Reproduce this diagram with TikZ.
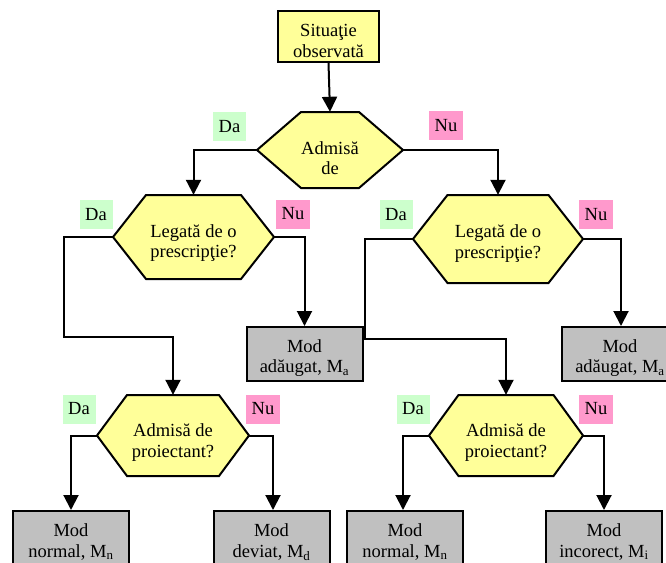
\documentclass[tikz,border=0pt]{standalone}
\usepackage{fontspec}
\setmainfont{Liberation Serif}
\usetikzlibrary{arrows.meta}

\definecolor{hexfill}{HTML}{FFFF99}
\definecolor{modgray}{HTML}{C0C0C0}
\definecolor{yesbg}{HTML}{CCFFCC}
\definecolor{nobg}{HTML}{FF99CC}

\tikzset{
  txt/.style={font=\fontsize{18.5}{20.5}\selectfont, align=center, inner sep=0pt},
  edge/.style={draw=black, line width=2pt},
  hexshape/.style={edge, fill=hexfill, line join=miter},
  startbox/.style={edge, fill=hexfill, minimum width=101, minimum height=51, inner sep=0pt},
  modbox/.style={edge, fill=modgray, minimum width=116, minimum height=54, inner sep=0pt},
  yes/.style={txt, fill=yesbg, minimum width=33, minimum height=29},
  no/.style={txt, fill=nobg, minimum width=34, minimum height=29},
  conn/.style={line width=2pt, -{Triangle[width=15pt,length=15pt]}},
}

% decision hexagon: name, centre x, centre y, half width, tip inset, half height, text, text drop
\newcommand\hexdecision[8]{%
  \filldraw[hexshape] (#2-#4,#3) -- (#2-#4+#5,#3-#6) -- (#2+#4-#5,#3-#6)
    -- (#2+#4,#3) -- (#2+#4-#5,#3+#6) -- (#2-#4+#5,#3+#6) -- cycle;
  \node[inner sep=0pt, minimum width=2*#4, minimum height=2*#6] (#1) at (#2,#3) {};
  \node[txt] (#1-t) at (#2,#3+#8) {#7};
}

% outcome box: name, centre x, centre y, text
\newcommand\outcome[4]{%
  \node[modbox] (#1) at (#2,#3) {};
  \node[txt] (#1-t) at (#2,#3+4) {#4};
}

\begin{document}
\begin{tikzpicture}[x=1pt, y=-1pt]
\useasboundingbox (0,0) rectangle (666,562);
\clip (0,0) rectangle (666,562);

% start
\node[startbox] (start) at (328.5,36.5) {};
\node[txt] (start-t) at (328.5,41) {Situaţie\\observată};

% decisions
\hexdecision{h1}{330}{150}{73}{44}{38}{Admisă\\de}{8}
\hexdecision{h2a}{193.5}{237}{80.5}{33}{42}{Legată de o\\prescripţie?}{6}
\hexdecision{h2b}{498}{239}{85}{34.5}{44}{Legată de o\\prescripţie?}{4.5}
\hexdecision{h3a}{173}{435.5}{76}{30}{40.5}{Admisă de\\proiectant?}{7}
\hexdecision{h3b}{506}{435.5}{77}{29.5}{40.5}{Admisă de\\proiectant?}{7}

% outcomes
\outcome{ma1}{304.5}{354}{Mod\\adăugat, M\textsubscript{a}}
\outcome{ma2}{620}{354}{Mod\\adăugat, M\textsubscript{a}}
\outcome{mn1}{71}{538}{Mod\\normal, M\textsubscript{n}}
\outcome{md}{271.5}{538}{Mod\\deviat, M\textsubscript{d}}
\outcome{mn2}{405}{538}{Mod\\normal, M\textsubscript{n}}
\outcome{mi}{604}{538}{Mod\\incorect, M\textsubscript{i}}

% branch labels
\node[yes] (y1)  at (229.5,126.5) {Da};
\node[no]  (n1)  at (446,125.5) {Nu};
\node[yes] (y2a) at (96,214.5) {Da};
\node[no]  (n2a) at (293,214) {Nu};
\node[yes] (y2b) at (396,214.5) {Da};
\node[no]  (n2b) at (596,214.5) {Nu};
\node[yes] (y3a) at (79,409) {Da};
\node[no]  (n3a) at (263,409) {Nu};
\node[yes] (y3b) at (413,409) {Da};
\node[no]  (n3b) at (596,409) {Nu};

% connectors
\draw[conn] (start.south) -- (h1.north);
\draw[conn] (h1.west) -| (h2a.north);
\draw[conn] (h1.east) -| (h2b.north);
\draw[conn] (h2a.west) -| ++(-49,100) -| (h3a.north);
\draw[conn] (h2a.east) -| (ma1.north);
\draw[conn] (h2b.west) -| ++(-48,100) -| (h3b.north);
\draw[conn] (h2b.east) -| ([xshift=1pt]ma2.north);
\draw[conn] (h3a.west) -| (mn1.north);
\draw[conn] (h3a.east) -| ([xshift=1.5pt]md.north);
\draw[conn] (h3b.west) -| ([xshift=-2pt]mn2.north);
\draw[conn] (h3b.east) -| (mi.north);
\end{tikzpicture}
\end{document}
